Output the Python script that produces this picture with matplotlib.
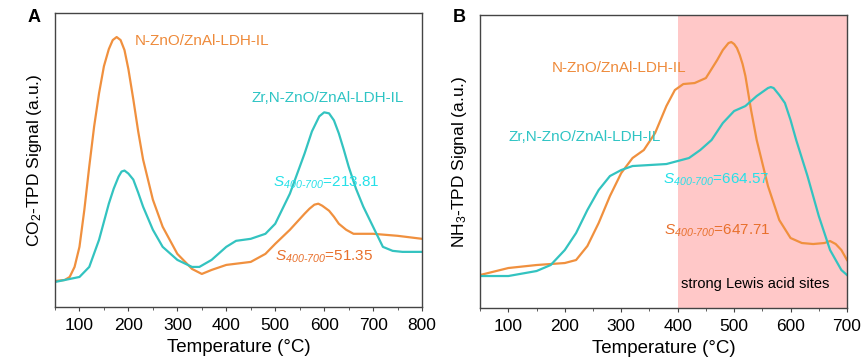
import matplotlib
matplotlib.use('Agg')
import matplotlib.pyplot as plt
from matplotlib.ticker import MultipleLocator

plt.rcParams['font.family'] = ['Liberation Sans', 'DejaVu Sans']
plt.rcParams['mathtext.fontset'] = 'custom'
plt.rcParams['mathtext.rm'] = 'Liberation Sans'
plt.rcParams['mathtext.it'] = 'Liberation Sans:italic'
plt.rcParams['mathtext.sf'] = 'Liberation Sans:italic'

# panel A: CO2-TPD (arbitrary units)
a_n_temp = [50, 70, 80, 90, 100, 110, 120, 130, 140, 150, 160, 168, 176, 184, 192, 200,
            210, 220, 230, 250, 270, 300, 330, 350, 370, 400, 450, 480, 500, 530, 560,
            570, 580, 588, 596, 610, 620, 630, 645, 660, 700, 750, 800]
a_n_sig = [26, 27, 30, 40, 60, 97, 140, 180, 213, 240, 257, 266, 269, 266, 256, 237,
           207, 175, 147, 107, 80, 53, 38, 33, 37, 42, 45, 53, 63, 77, 93,
           98, 102, 103, 101, 96, 90, 83, 77, 73, 73, 71, 68]
a_zr_temp = [50, 100, 120, 140, 160, 170, 180, 186, 192, 200, 210, 220, 230, 250, 270,
             300, 330, 345, 370, 400, 420, 450, 480, 500, 530, 560, 575, 590, 600, 610,
             620, 630, 640, 650, 665, 680, 700, 720, 740, 760, 800]
a_zr_sig = [25, 30, 40, 67, 103, 118, 130, 135, 136, 133, 127, 114, 100, 77, 60,
            47, 40, 40, 47, 60, 66, 68, 73, 83, 113, 153, 175, 190, 194, 193,
            186, 173, 157, 140, 118, 100, 80, 60, 56, 55, 55]

# panel B: NH3-TPD (arbitrary units)
b_n_temp = [50, 100, 150, 200, 220, 240, 260, 280, 300, 320, 340, 360, 380, 395, 410, 430,
            450, 470, 480, 490, 495, 500, 505, 510, 515, 520, 530, 540, 560, 580, 600,
            620, 640, 660, 670, 680, 690, 700]
b_n_sig = [33, 40, 43, 45, 48, 62, 85, 112, 135, 150, 158, 175, 202, 218, 224, 225,
           230, 248, 258, 265, 266, 264, 260, 253, 244, 232, 198, 168, 122, 88, 70,
           65, 64, 65, 67, 64, 58, 48]
b_zr_temp = [50, 100, 150, 175, 200, 220, 240, 260, 280, 300, 320, 350, 380, 400, 420, 440,
             460, 480, 500, 520, 540, 550, 560, 565, 570, 580, 590, 600, 610, 630, 650,
             670, 690, 700]
b_zr_sig = [32, 32, 37, 43, 58, 75, 98, 118, 132, 138, 142, 143, 144, 147, 150, 158,
            168, 185, 197, 202, 212, 216, 220, 221, 220, 213, 205, 188, 168, 132, 92,
            58, 38, 33]

orange = '#F0903E'
teal = '#33C3C0'
s_lab = '$\\mathsf{S}_{\\mathsf{400‐700}}$'

fig = plt.figure(figsize=(8.62, 3.6), dpi=100)
axA = fig.add_axes([0.0638, 0.147, 0.4258, 0.817])
axB = fig.add_axes([0.557, 0.1444, 0.4256, 0.8138])

for ax in (axA, axB):
    ax.set_yticks([])
    ax.xaxis.set_major_locator(MultipleLocator(100))
    ax.xaxis.set_minor_locator(MultipleLocator(50))
    ax.tick_params(axis='x', which='major', length=3, labelsize=12.5, pad=5, color='#444444')
    ax.tick_params(axis='x', which='minor', length=2, color='#444444')
    for s in ax.spines.values():
        s.set_color('#444444')
        s.set_linewidth(1.0)
    ax.set_xlabel('Temperature (°C)', fontsize=13.5, labelpad=4)
    ax.set_ylim(0, 293)

axA.plot(a_n_temp, a_n_sig, color=orange, lw=1.6)
axA.plot(a_zr_temp, a_zr_sig, color=teal, lw=1.6)
axA.set_xlim(50, 800)
axA.set_ylabel('CO$_2$-TPD Signal (a.u.)', fontsize=12.5, labelpad=8)
axA.text(213, 265, 'N-ZnO/ZnAl-LDH-IL', color='#EE8A3A', fontsize=11, va='center')
axA.text(452, 208, 'Zr,N-ZnO/ZnAl-LDH-IL', color='#2EC4C4', fontsize=11, va='center')
axA.text(495, 124, s_lab + '=213.81', color='#25E0E8', fontsize=11, va='center')
axA.text(500, 50, s_lab + '=51.35', color='#E8702C', fontsize=11, va='center')

axB.axvspan(400, 700, color='#FFC8C8', lw=0)
axB.plot(b_n_temp, b_n_sig, color=orange, lw=1.6)
axB.plot(b_zr_temp, b_zr_sig, color=teal, lw=1.6)
axB.set_xlim(50, 700)
axB.set_ylabel('NH$_3$-TPD Signal (a.u.)', fontsize=12.5, labelpad=8)
axB.text(177, 240, 'N-ZnO/ZnAl-LDH-IL', color='#EE8A3A', fontsize=11, va='center')
axB.text(100, 171, 'Zr,N-ZnO/ZnAl-LDH-IL', color='#2EC4C4', fontsize=11, va='center')
axB.text(374, 128, s_lab + '=664.57', color='#25E0E8', fontsize=11, va='center')
axB.text(376, 77, s_lab + '=647.71', color='#E8702C', fontsize=11, va='center')
axB.text(406, 24, 'strong Lewis acid sites', color='black', fontsize=10.5, va='center')

fig.text(0.04, 0.95, 'A', fontsize=13, fontweight='bold', ha='center', va='center')
fig.text(0.533, 0.95, 'B', fontsize=13, fontweight='bold', ha='center', va='center')

fig.savefig('out.png', dpi=100)
